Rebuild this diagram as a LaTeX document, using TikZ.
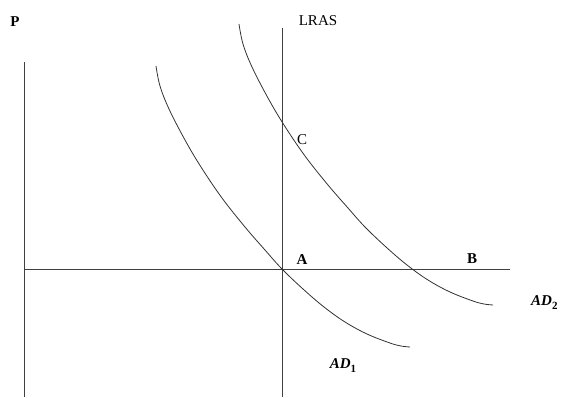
\documentclass[tikz,border=0pt]{standalone}
\usepackage{fontspec}
\setmainfont{Liberation Serif}
\usepackage{tikz}
\usepackage{xcolor}

\tikzset{
  axisline/.style={line width=0.8pt, draw=black!75},
  adcurve/.style={line width=0.8pt, draw=black!80},
  ptlabel/.style={font=\fontsize{15}{18}\selectfont\bfseries, inner sep=0pt},
  adlabel/.style={font=\fontsize{15}{18}\selectfont\bfseries\itshape, inner sep=0pt}
}

\begin{document}
\begin{tikzpicture}[x=1pt, y=-1pt]
\useasboundingbox (0,0) rectangle (565,397);
\clip (0,0) rectangle (565,397);
\coordinate (ptop) at (24,62);
\coordinate (pbot) at (24,397);
\coordinate (yend) at (510,269);
\coordinate (ltop) at (282,28);
\coordinate (lbot) at (282,397);
\draw[axisline] (ptop) -- (pbot);
\draw[axisline] (ptop |- yend) -- (yend);
\draw[axisline] (ltop) -- (lbot);
\foreach \dx/\dy/\nm in {0/0/one, 83/-42/two}
  \draw[adcurve, shift={(\dx,\dy)}] plot[smooth, tension=0.6] coordinates {
    (156,66) (160,86) (169,109) (185,140) (201,167) (222,198) (245,227)
    (265,250) (282,269) (303,289) (324,307) (345,322) (367,334) (390,343) (401,346) (410,347)};
\node[ptlabel] (plab) at (15,22) {P};
\node[ptlabel, font=\fontsize{15}{18}\selectfont] (lraslab) at (318,21) {LRAS};
\node[ptlabel, font=\fontsize{15}{18}\selectfont] (clab) at (302,140) {C};
\node[ptlabel] (alab) at (302,260) {A};
\node[ptlabel] (blab) at (472,259) {B};
\node[adlabel] (adonelab) at (343,366) {AD\raisebox{-4pt}{\fontsize{11}{12}\selectfont\upshape 1}};
\node[adlabel, anchor=west] (adtwolab) at (531,303) {AD\raisebox{-4pt}{\fontsize{11}{12}\selectfont\upshape 2}};
\end{tikzpicture}
\end{document}
